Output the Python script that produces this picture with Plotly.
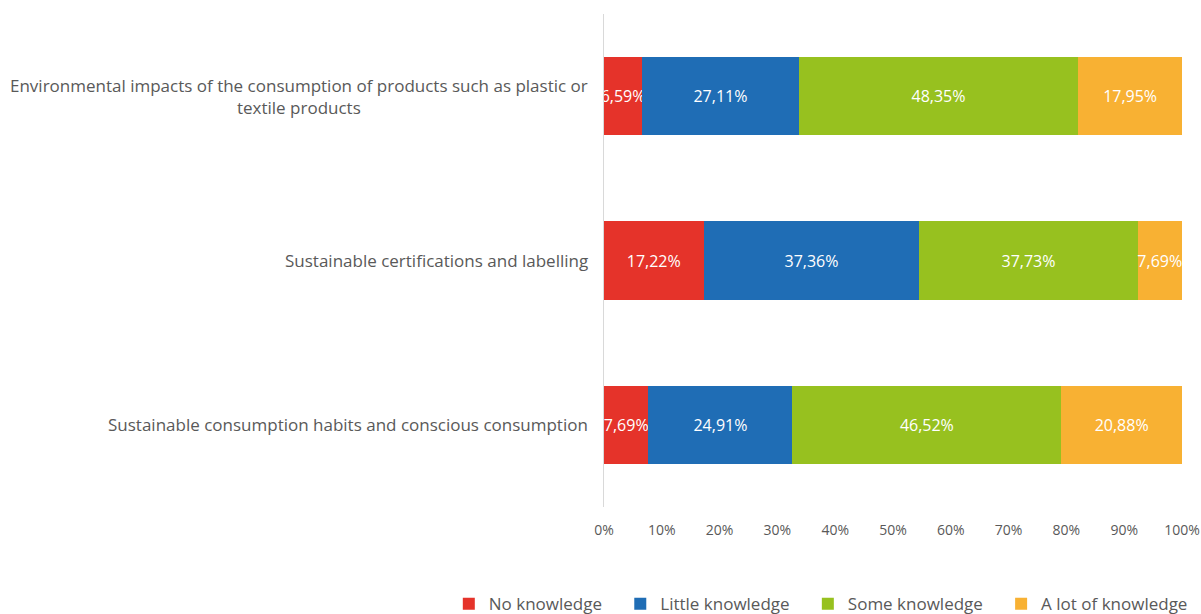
import plotly.graph_objects as go

categories = [
    "Environmental impacts of the consumption of products such as plastic or<br>textile products",
    "Sustainable certifications and labelling",
    "Sustainable consumption habits and conscious consumption",
]
series_names = ["No knowledge", "Little knowledge", "Some knowledge", "A lot of knowledge"]
no_knowledge = [6.59, 17.22, 7.69]
little_knowledge = [27.11, 37.36, 24.91]
some_knowledge = [48.35, 37.73, 46.52]
a_lot_knowledge = [17.95, 7.69, 20.88]
colors = ["#E5332A", "#1F6DB5", "#97C11F", "#F8B133"]
x_tickvals = [0, 10, 20, 30, 40, 50, 60, 70, 80, 90, 100]
x_ticktext = [f"{v}%" for v in x_tickvals]

FONT = "Open Sans"
GRAY = "#595959"
PAD = "\u00a0\u00a0\u00a0"

fig = go.Figure()
for name, vals, col in zip(series_names, [no_knowledge, little_knowledge, some_knowledge, a_lot_knowledge], colors):
    fig.add_trace(go.Bar(
        y=categories, x=vals, name=name + PAD, orientation="h",
        marker=dict(color=col, line=dict(width=0)),
        text=[f"{v:.2f}%".replace(".", ",") for v in vals],
        textposition="inside", insidetextanchor="middle", textangle=0,
        constraintext="none", cliponaxis=False,
        textfont=dict(color="white", size=16, family=FONT),
        hoverinfo="skip",
    ))

for c in categories:
    fig.add_annotation(
        x=0, xref="paper", y=c, yref="y", text=c, showarrow=False,
        xanchor="right", xshift=-14, align="center",
        font=dict(size=17, color=GRAY, family=FONT),
    )

fig.update_layout(
    barmode="stack", bargap=0.525,
    width=1201, height=614,
    margin=dict(l=604, r=19, t=14, b=107, autoexpand=False),
    paper_bgcolor="white", plot_bgcolor="white",
    font=dict(family=FONT, color=GRAY),
    legend=dict(
        orientation="h", x=-0.2685, xanchor="left", xref="paper",
        y=-0.197, yanchor="middle",
        font=dict(size=17, color=GRAY, family=FONT),
        traceorder="normal", itemwidth=30,
    ),
    showlegend=True,
)
fig.update_xaxes(
    range=[0, 100.001], tickvals=x_tickvals, ticktext=x_ticktext,
    showgrid=False, zeroline=False, showline=False, automargin=False,
    tickfont=dict(size=14, color=GRAY, family=FONT),
    ticklabelstandoff=13,
)
fig.update_yaxes(
    categoryorder="array", categoryarray=categories[::-1],
    showticklabels=False, showgrid=False, zeroline=False, automargin=False,
    showline=True, linecolor="#D9D9D9", linewidth=1, ticks="",
)

fig.write_html(
    "out.html",
    config={"displayModeBar": False},
    post_script="document.body.style.margin='0';document.documentElement.style.overflow='hidden';document.body.style.overflow='hidden';",
)
